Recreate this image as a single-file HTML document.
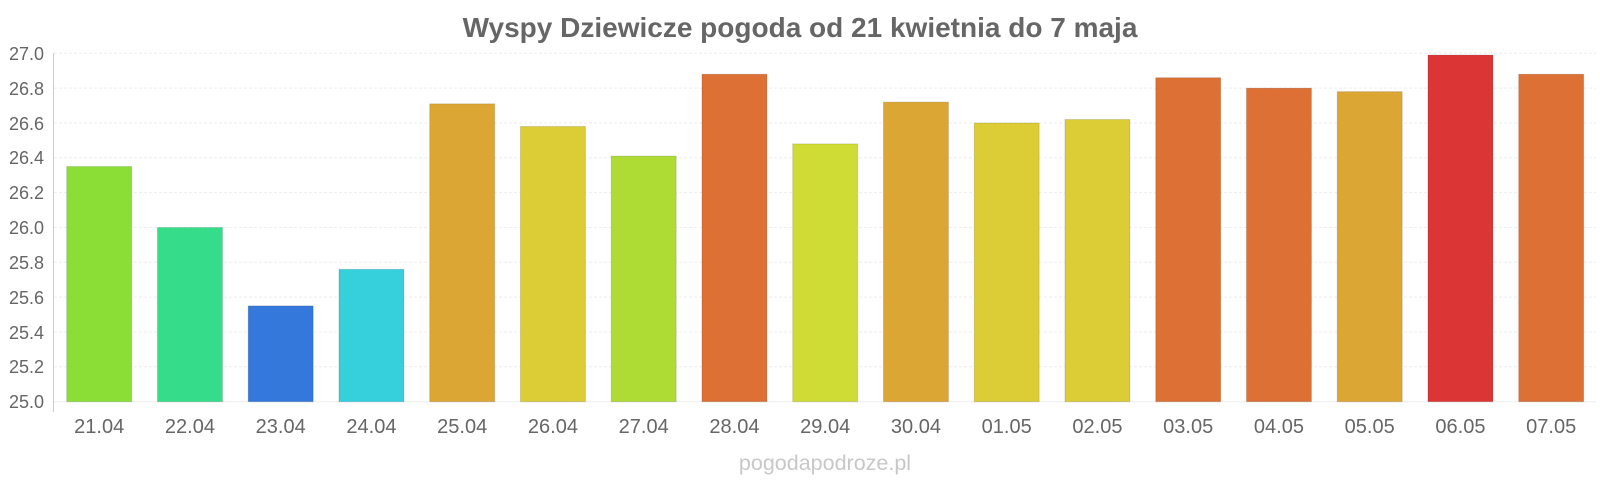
<!DOCTYPE html>
<html><head><meta charset="utf-8"><style>
html,body{margin:0;padding:0;background:#fff;}
svg{display:block;font-family:"Liberation Sans",sans-serif;}
</style></head><body>
<svg width="1600" height="480" viewBox="0 0 1600 480">
<text x="800" y="37" text-anchor="middle" font-size="28" font-weight="bold" fill="#666">Wyspy Dziewicze pogoda od 21 kwietnia do 7 maja</text>
<g stroke="#eee" stroke-width="1" stroke-dasharray="3,2">
<line x1="54" x2="1596" y1="53.3" y2="53.3"/>
<line x1="54" x2="1596" y1="88.1" y2="88.1"/>
<line x1="54" x2="1596" y1="123" y2="123"/>
<line x1="54" x2="1596" y1="157.8" y2="157.8"/>
<line x1="54" x2="1596" y1="192.6" y2="192.6"/>
<line x1="54" x2="1596" y1="227.5" y2="227.5"/>
<line x1="54" x2="1596" y1="262.3" y2="262.3"/>
<line x1="54" x2="1596" y1="297.1" y2="297.1"/>
<line x1="54" x2="1596" y1="332" y2="332"/>
<line x1="54" x2="1596" y1="366.8" y2="366.8"/>
</g>
<line x1="54" x2="1596" y1="401.7" y2="401.7" stroke="#eee"/>
<line x1="53.5" x2="53.5" y1="53" y2="412" stroke="#ccc"/>
<g font-size="18" fill="#666" text-anchor="end">
<text x="44" y="60">27.0</text><text x="44" y="95">26.8</text><text x="44" y="130">26.6</text><text x="44" y="164">26.4</text><text x="44" y="199">26.2</text><text x="44" y="234">26.0</text><text x="44" y="269">25.8</text><text x="44" y="304">25.6</text><text x="44" y="339">25.4</text><text x="44" y="373">25.2</text><text x="44" y="408">25.0</text>
</g>
<g id="bars"></g>
<g id="labels" font-size="20" fill="#666" text-anchor="middle"></g>
<text x="825" y="470" text-anchor="middle" font-size="21.5" fill="#c8c8c8">pogodapodroze.pl</text>
</svg>
<script>
var v=[26.35,26.0,25.55,25.76,26.71,26.58,26.41,26.88,26.48,26.72,26.6,26.62,26.86,26.8,26.78,26.99,26.88];
var c=["#8ade35","#35dc8a","#3578dc","#35d0dc","#dca635","#dccc35","#aedc35","#dc7035","#cedc35","#dca635","#dccc35","#dccc35","#dc7035","#dc7035","#dca635","#dc3535","#dc7035"];
var l=["21.04","22.04","23.04","24.04","25.04","26.04","27.04","28.04","29.04","30.04","01.05","02.05","03.05","04.05","05.05","06.05","07.05"];
var ns="http://www.w3.org/2000/svg",b=document.getElementById("bars"),t=document.getElementById("labels");
for(var i=0;i<17;i++){var x=53+i*90.75+13.7,y=401.7-(v[i]-25)*174.2;
var r=document.createElementNS(ns,"rect");r.setAttribute("x",x);r.setAttribute("y",y);r.setAttribute("width",65);r.setAttribute("height",401.7-y);r.setAttribute("fill",c[i]);r.setAttribute("stroke","rgba(0,0,0,0.12)");b.appendChild(r);
var s=document.createElementNS(ns,"text");s.setAttribute("x",x+32.5);s.setAttribute("y",433);s.textContent=l[i];t.appendChild(s);}
</script>
</body></html>
